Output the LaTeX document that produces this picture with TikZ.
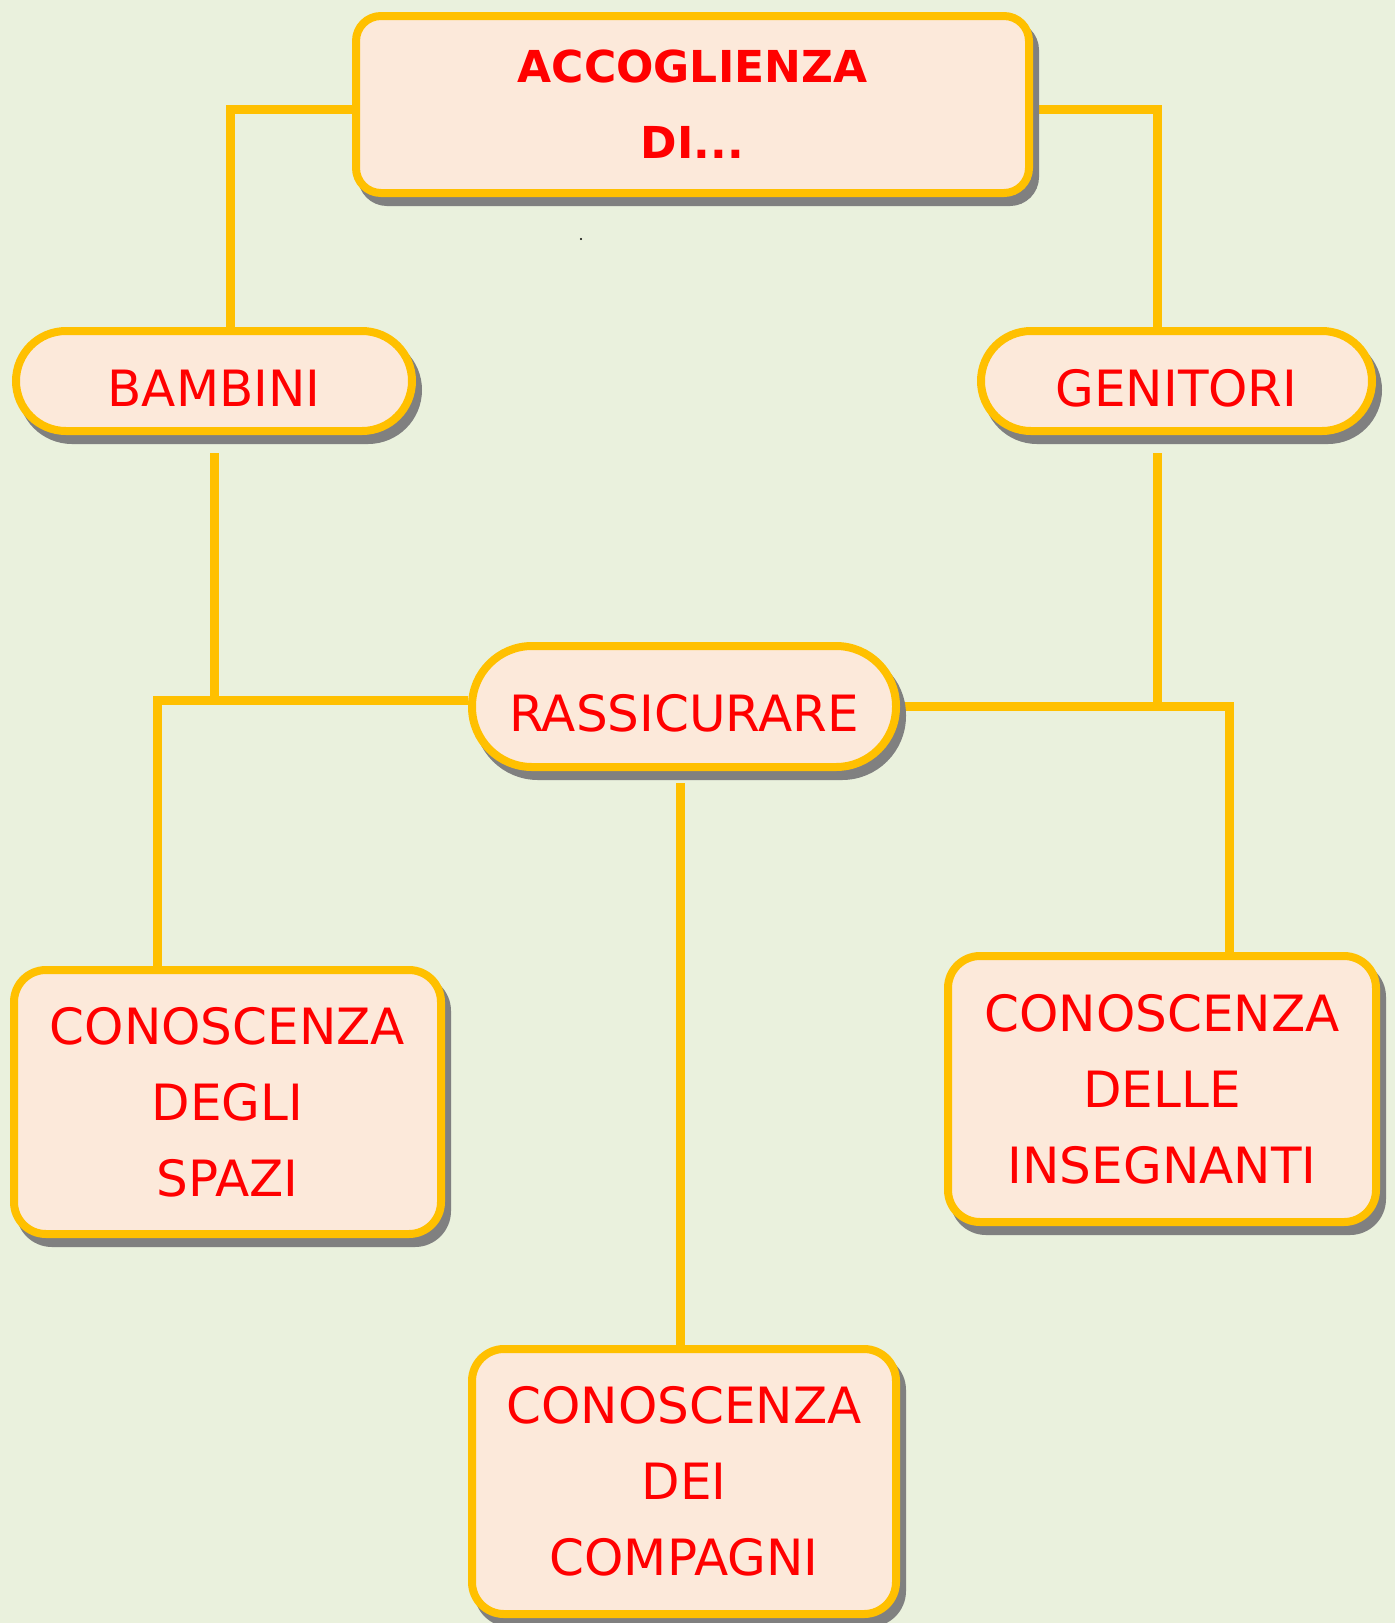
\documentclass[tikz,border=0pt]{standalone}
\usepackage{fontspec}
\setmainfont{DejaVu Sans}
\usetikzlibrary{shadows,backgrounds,calc}
\definecolor{bgc}{HTML}{EAF1DD}
\definecolor{boxfill}{HTML}{FCE9DA}
\definecolor{gold}{HTML}{FFC000}
\definecolor{txtred}{HTML}{FF0000}
\definecolor{shad}{HTML}{808080}
\tikzset{
  shapebase/.style={draw=gold, fill=boxfill, line width=4pt, text=txtred,
    font=\fontsize{25}{38}\selectfont, align=center, inner sep=0pt,
    drop shadow={shadow xshift=3pt, shadow yshift=-4.5pt, fill=shad, draw=shad, line width=4pt, opacity=1}},
  pill/.style={shapebase, rounded corners=#1, text height=25pt, text depth=0pt},
  boxr/.style={shapebase, rounded corners=16pt},
  conn/.style={draw=gold, line width=4.5pt}
}
\begin{document}
\begin{tikzpicture}[x=0.5pt,y=-0.5pt]
\useasboundingbox (0,0) rectangle (1395,1623);
% nodes
\node[shapebase, rounded corners=12.5pt, minimum width=336.5pt, minimum height=88.5pt,
      font=\bfseries\fontsize{22}{38}\selectfont] (top) at (692.5,104.5) {ACCOGLIENZA\\DI...};
\node[pill=25pt, minimum width=198pt, minimum height=50pt] (bambini) at (214,381) {BAMBINI};
\node[pill=25pt, minimum width=195.5pt, minimum height=50pt] (genitori) at (1176.5,381) {GENITORI};
\node[pill=30pt, minimum width=212pt, minimum height=60.5pt] (rass) at (684,706.5) {RASSICURARE};
\node[boxr, minimum width=213.5pt, minimum height=132pt] (spazi) at (227.5,1102) {CONOSCENZA\\DEGLI\\SPAZI};
\node[boxr, minimum width=214pt, minimum height=133pt] (insegn) at (1162,1089) {CONOSCENZA\\DELLE\\INSEGNANTI};
\node[boxr, minimum width=212pt, minimum height=132.5pt] (compagni) at (684,1481.5) {CONOSCENZA\\DEI\\COMPAGNI};
% junctions
\coordinate (jL) at (230,109);
\coordinate (jR) at (1157,109);
\coordinate (jB) at (214,700);
\coordinate (jS) at (157,700);
\coordinate (jI) at (1229,706);
\coordinate (jG) at (1157,706);
\coordinate (jC) at (680,783);
\begin{scope}[on background layer]
\fill[bgc] (0,0) rectangle (1395,1623);
\fill[black] (581,239) circle (0.6pt);
\draw[conn] (top.west |- jL) -- (jL) -- (jL |- bambini.north);
\draw[conn] (top.east |- jR) -- (jR) -- (jR |- genitori.north);
\draw[conn, shorten <=9pt] (bambini.south) -- (jB);
\draw[conn] (rass.west |- jB) -- (jS) -- (jS |- spazi.north);
\draw[conn, shorten <=9pt] (genitori.south -| jG) -- (jG);
\draw[conn] (rass.east |- jI) -- (jI) -- (jI |- insegn.north);
\draw[conn] (jC) -- (jC |- compagni.north);
\end{scope}
\end{tikzpicture}
\end{document}
